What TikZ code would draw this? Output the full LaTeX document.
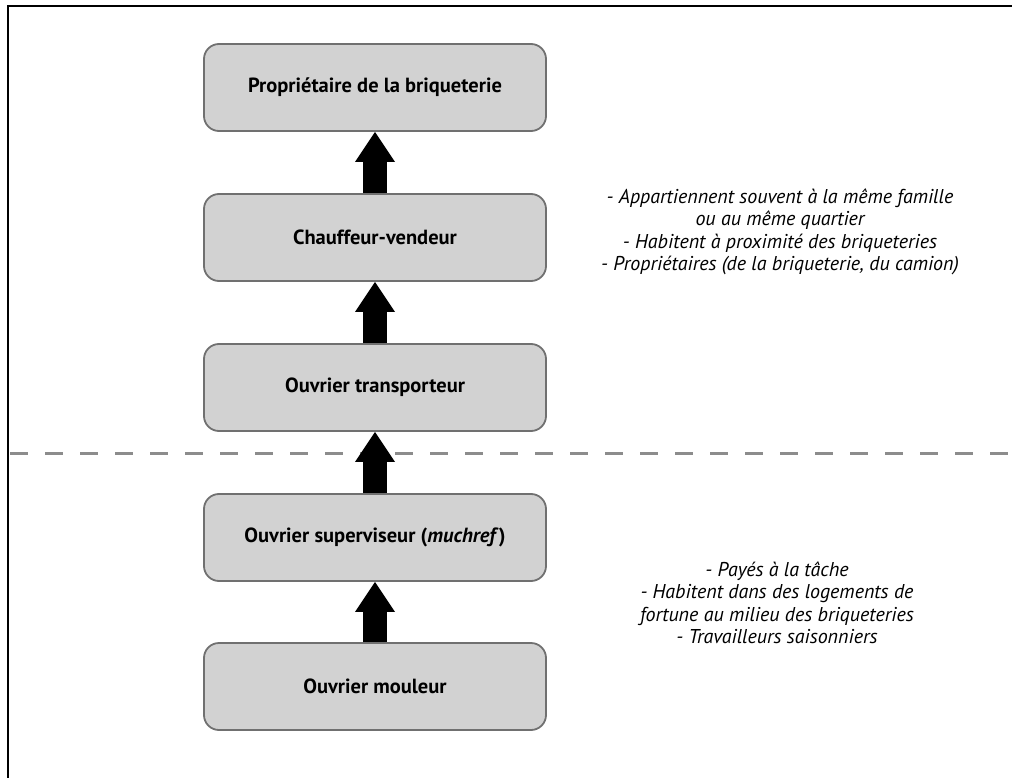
\documentclass[tikz,border=0pt]{standalone}
\usepackage{fontspec}
\setmainfont{PT Sans}
\usetikzlibrary{arrows.meta}
\definecolor{boxfill}{HTML}{D2D2D2}
\definecolor{boxline}{HTML}{707070}
\definecolor{sepline}{HTML}{8C8C8C}
\tikzset{
  rolebox/.style={draw=boxline, fill=boxfill, line width=1.8pt, rounded corners=15pt,
    minimum width=342pt, minimum height=87pt, font=\fontsize{20.5}{24}\selectfont\bfseries},
  uparrow/.style={line width=24pt, -{Triangle[length=30pt,width=40pt,line width=0pt]}},
  note/.style={align=center, font=\fontsize{20}{22.5}\selectfont\itshape},
}
\begin{document}
\begin{tikzpicture}[x=1pt,y=-1pt]
\useasboundingbox (0,0) rectangle (1012,778);
% frame (top and left edges)
\draw[line width=2pt] (1012,6) -- (8,6) -- (8,778);
% role boxes
\node[rolebox] (prop) at (375,87.5) {Propriétaire de la briqueterie};
\node[rolebox] (chauf) at (375,237.5) {Chauffeur-vendeur};
\node[rolebox] (transp) at (375,387.5) {Ouvrier transporteur};
\node[rolebox] (superv) at (375,537.5) {Ouvrier superviseur (\textit{muchref})};
\node[rolebox] (moul) at (375,686.5) {Ouvrier mouleur};
% separation line
\draw[sepline, line width=3pt, dash pattern=on 18pt off 17pt] (10,453) -- (1012,453);
% hierarchy arrows
\draw[uparrow] (moul.north) -- (superv.south);
\draw[uparrow] (superv.north) -- (transp.south);
\draw[uparrow] (transp.north) -- (chauf.south);
\draw[uparrow] (chauf.north) -- (prop.south);
% notes
\node[note] (upper) at (780,232) {- Appartiennent souvent à la même famille\\ou au même quartier\\- Habitent à proximité des briqueteries\\- Propriétaires (de la briqueterie, du camion)};
\node[note] (lower) at (777,603) {- Payés à la tâche\\- Habitent dans des logements de\\fortune au milieu des briqueteries\\- Travailleurs saisonniers};
\end{tikzpicture}
\end{document}
